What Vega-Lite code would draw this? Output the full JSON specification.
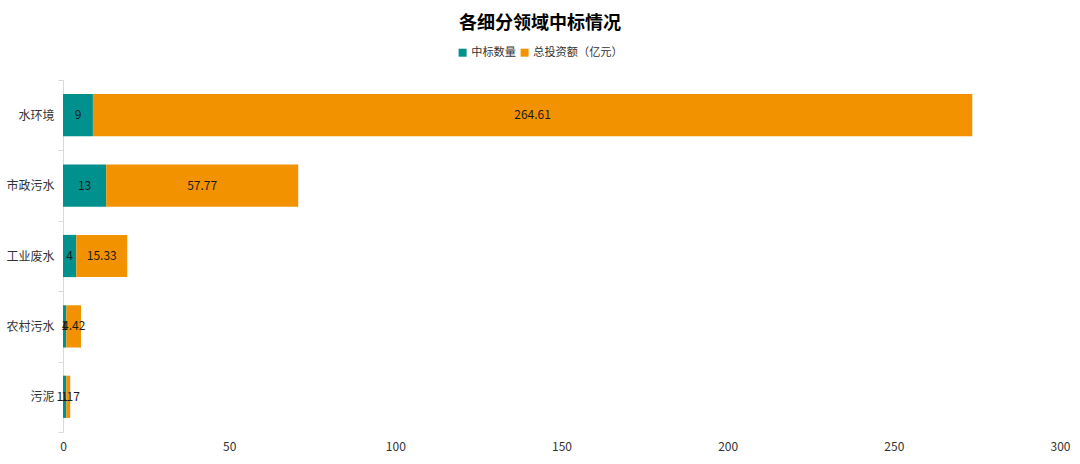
{
  "$schema": "https://vega.github.io/schema/vega-lite/v6.json",
  "autosize": "none",
  "width": 997,
  "height": 352,
  "padding": {"left": 63, "top": 80, "right": 20, "bottom": 32},
  "background": "white",
  "title": {
    "text": "各细分领域中标情况",
    "font": "Noto Sans CJK SC",
    "fontSize": 18,
    "fontWeight": "bold",
    "color": "#000000",
    "anchor": "start",
    "frame": "group",
    "dx": 396,
    "offset": 14
  },
  "config": {
    "view": {"stroke": null},
    "font": "Noto Sans CJK SC",
    "axis": {"labelFont": "Noto Sans CJK SC", "labelFontSize": 12, "labelColor": "#333333"}
  },
  "data": {
    "values": [
      {"category": "水环境", "series": "中标数量", "value": 9, "ord": 0},
      {"category": "水环境", "series": "总投资额（亿元）", "value": 264.61, "ord": 1},
      {"category": "市政污水", "series": "中标数量", "value": 13, "ord": 0},
      {"category": "市政污水", "series": "总投资额（亿元）", "value": 57.77, "ord": 1},
      {"category": "工业废水", "series": "中标数量", "value": 4, "ord": 0},
      {"category": "工业废水", "series": "总投资额（亿元）", "value": 15.33, "ord": 1},
      {"category": "农村污水", "series": "中标数量", "value": 1, "ord": 0},
      {"category": "农村污水", "series": "总投资额（亿元）", "value": 4.42, "ord": 1},
      {"category": "污泥", "series": "中标数量", "value": 1, "ord": 0},
      {"category": "污泥", "series": "总投资额（亿元）", "value": 1.17, "ord": 1}
    ]
  },
  "transform": [
    {"stack": "value", "groupby": ["category"], "sort": [{"field": "ord", "order": "ascending"}], "as": ["v0", "v1"]}
  ],
  "encoding": {
    "y": {
      "field": "category",
      "type": "nominal",
      "sort": ["水环境", "市政污水", "工业废水", "农村污水", "污泥"],
      "scale": {"paddingInner": 0, "paddingOuter": 0},
      "axis": {
        "title": null,
        "tickBand": "extent",
        "domainColor": "#d9d9d9",
        "tickColor": "#d9d9d9",
        "tickSize": 5,
        "labelPadding": 4
      }
    }
  },
  "layer": [
    {
      "mark": {"type": "bar", "height": {"band": 0.6}},
      "encoding": {
        "x": {
          "field": "v0",
          "type": "quantitative",
          "scale": {"domain": [0, 300], "nice": false},
          "axis": {
            "title": null,
            "values": [0, 50, 100, 150, 200, 250, 300],
            "domain": false,
            "ticks": false,
            "grid": false,
            "labelPadding": 9,
            "labelFlush": false
          }
        },
        "x2": {"field": "v1"},
        "color": {
          "field": "series",
          "type": "nominal",
          "sort": ["中标数量", "总投资额（亿元）"],
          "scale": {"domain": ["中标数量", "总投资额（亿元）"], "range": ["#00918F", "#F29200"]},
          "legend": {
            "title": null,
            "orient": "none",
            "direction": "horizontal",
            "legendX": 394,
            "legendY": -33,
            "symbolType": "square",
            "symbolSize": 64,
            "symbolStrokeWidth": 0,
            "labelFontSize": 11.2,
            "labelColor": "#333333",
            "labelOffset": 3,
            "columnPadding": 3
          }
        }
      }
    },
    {
      "transform": [
        {"fold": ["v0", "v1"], "as": ["edge", "pos"]},
        {"aggregate": [{"op": "mean", "field": "pos", "as": "mid"}], "groupby": ["category", "series", "value"]}
      ],
      "mark": {"type": "text", "fontSize": 12, "color": "#1a1a1a", "font": "Noto Sans CJK SC"},
      "encoding": {
        "x": {"field": "mid", "type": "quantitative"},
        "text": {"field": "value", "type": "nominal"}
      }
    }
  ]
}
